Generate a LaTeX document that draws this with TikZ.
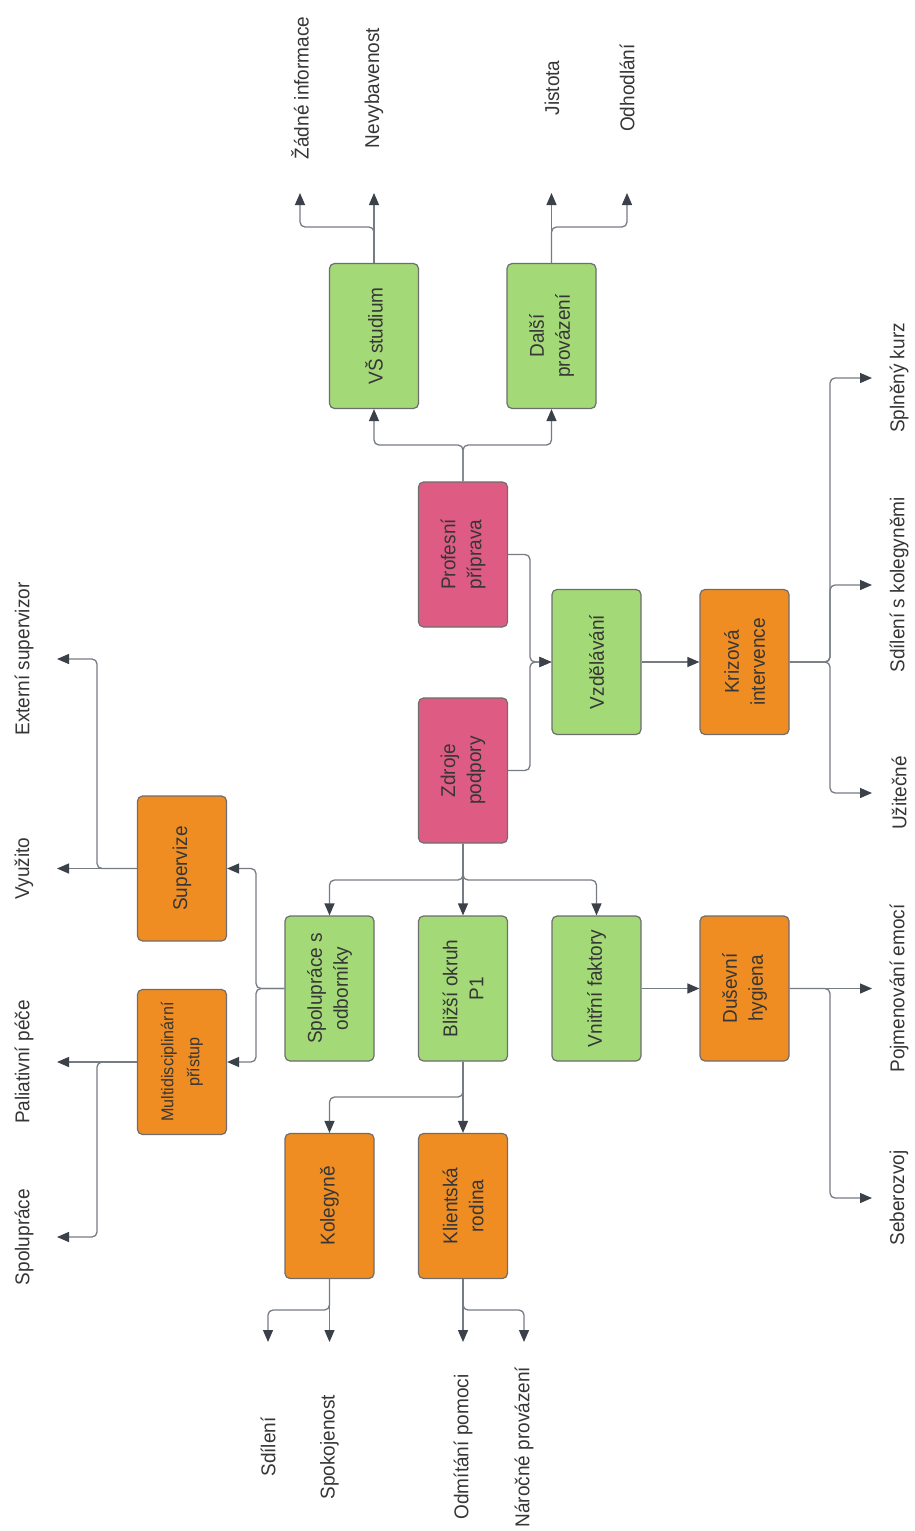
\documentclass[tikz,border=0pt]{standalone}
\usepackage{fontspec}
\setmainfont[FakeStretch=0.95]{Liberation Sans}
\usetikzlibrary{arrows.meta,calc}
\definecolor{cgreen}{HTML}{A3D977}
\definecolor{corange}{HTML}{EF8D22}
\definecolor{cpink}{HTML}{DE5C84}
\definecolor{cedge}{HTML}{6E6E6E}
\definecolor{cline}{HTML}{777C84}
\definecolor{ctip}{HTML}{3B4149}
\definecolor{ctext}{HTML}{363636}
\begin{document}
\begin{tikzpicture}[x=1pt,y=1pt,
 box/.style={draw=cedge, line width=1.2pt, rounded corners=5pt, rotate=90, minimum width=145pt, minimum height=89pt, inner sep=2pt, align=center, text=ctext, font=\fontsize{20}{26}\selectfont},
 gbox/.style={box, fill=cgreen},
 obox/.style={box, fill=corange},
 pbox/.style={box, fill=cpink},
 lab/.style={rotate=90, text=ctext, font=\fontsize{20}{26}\selectfont, inner sep=0pt},
 conn/.style={draw=cline, line width=1.3pt, rounded corners=5pt, -{Triangle[length=12pt,width=10pt,color=ctip]}}
]
\fill[white] (0,0) rectangle (915,-1531);
\useasboundingbox (0,0) rectangle (915,-1531);

% boxes
\node[gbox] (vs) at (374,-336) {VŠ studium};
\node[gbox] (dalsi) at (551.5,-336) {Další\\provázení};
\node[pbox] (prof) at (463,-554.5) {Profesní\\příprava};
\node[pbox] (zdroje) at (463,-770.5) {Zdroje\\podpory};
\node[gbox] (vzdel) at (596.5,-662) {Vzdělávání};
\node[obox] (kriz) at (744.5,-662) {Krizová\\intervence};
\node[obox] (super) at (182,-868.5) {Supervize};
\node[obox, font=\fontsize{17}{26}\selectfont] (multi) at (182,-1062) {Multidisciplinární\\přístup};
\node[gbox] (spol) at (329.5,-988.5) {Spolupráce s\\odborníky};
\node[gbox] (blizsi) at (463,-988.5) {Bližší okruh\\P1};
\node[gbox] (vnitr) at (596.5,-988.5) {Vnitřní faktory};
\node[obox] (dus) at (744.5,-988.5) {Duševní\\hygiena};
\node[obox] (koleg) at (329.5,-1206) {Kolegyně};
\node[obox] (klient) at (463,-1206) {Klientská\\rodina};

% labels
\node[lab] (lZad) at (300,-88) {Žádné informace};
\node[lab] (lNev) at (374,-88) {Nevybavenost};
\node[lab] (lJis) at (552,-88) {Jistota};
\node[lab] (lOdh) at (627,-88) {Odhodlání};
\node[lab] (lExt) at (24,-659) {Externí supervizor};
\node[lab] (lVyu) at (24,-868.5) {Využito};
\node[lab] (lPal) at (24,-1062) {Paliativní péče};
\node[lab] (lSpo) at (24,-1237) {Spolupráce};
\node[lab] (lSpl) at (899,-378) {Splněný kurz};
\node[lab] (lSdk) at (899,-585) {Sdílení s kolegyněmi};
\node[lab] (lUzi) at (899,-793) {Užitečné};
\node[lab] (lPoj) at (899,-988.5) {Pojmenování emocí};
\node[lab] (lSeb) at (899,-1198) {Seberozvoj};
\node[lab] (lSdi) at (268,-1447) {Sdílení};
\node[lab] (lSpk) at (329.5,-1447) {Spokojenost};
\node[lab] (lOdm) at (463,-1447) {Odmítání pomoci};
\node[lab] (lNar) at (524,-1447) {Náročné provázení};

% arrow tips (free ends)
\coordinate (tZad) at (300,-193);
\coordinate (tNev) at (374,-193);
\coordinate (tJis) at (551.5,-193);
\coordinate (tOdh) at (627,-193);
\coordinate (tExt) at (57,-659);
\coordinate (tVyu) at (57,-868.5);
\coordinate (tPal) at (57,-1062);
\coordinate (tSpo) at (57,-1237);
\coordinate (tSpl) at (872,-378);
\coordinate (tSdk) at (872,-585);
\coordinate (tUzi) at (872,-793);
\coordinate (tPoj) at (872,-988.5);
\coordinate (tSeb) at (872,-1198);
\coordinate (tSdi) at (268,-1342);
\coordinate (tSpk) at (329.5,-1342);
\coordinate (tOdm) at (463,-1342);
\coordinate (tNar) at (524,-1342);

% connectors
\draw[conn] (prof.east) -- (463,-445) -| (vs.west);
\draw[conn] (prof.east) -- (463,-445) -| (dalsi.west);
\draw[conn] (vs.east) -- (tNev);
\draw[conn] (vs.east) -- (374,-227) -| (tZad);
\draw[conn] (dalsi.east) -- (tJis);
\draw[conn] (dalsi.east) -- (551.5,-227) -| (tOdh);

\draw[conn] (prof.south) -| (530,-662) -- (vzdel.north);
\draw[conn] (zdroje.south) -| (530,-662) -- (vzdel.north);
\draw[conn] (vzdel.south) -- (kriz.north);
\draw[conn] (kriz.south) -- (830,-662) |- (tSpl);
\draw[conn] (kriz.south) -- (830,-662) |- (tSdk);
\draw[conn] (kriz.south) -- (830,-662) |- (tUzi);

\draw[conn] (zdroje.west) -- (463,-880) -| (spol.east);
\draw[conn] (zdroje.west) -- (blizsi.east);
\draw[conn] (zdroje.west) -- (463,-880) -| (vnitr.east);

\draw[conn] (vnitr.south) -- (dus.north);
\draw[conn] (dus.south) -- (tPoj);
\draw[conn] (dus.south) -- (830,-988.5) |- (tSeb);

\draw[conn] (spol.north) -- (256,-988.5) |- (super.south);
\draw[conn] (spol.north) -- (256,-988.5) |- (multi.south);
\draw[conn] (super.north) -- (tVyu);
\draw[conn] (super.north) -- (97,-868.5) |- (tExt);
\draw[conn] (multi.north) -- (tPal);
\draw[conn] (multi.north) -- (97,-1062) |- (tSpo);

\draw[conn] (blizsi.west) -- (463,-1097) -| (koleg.east);
\draw[conn] (blizsi.west) -- (klient.east);
\draw[conn] (koleg.west) -- (tSpk);
\draw[conn] (koleg.west) -- (329.5,-1310) -| (tSdi);
\draw[conn] (klient.west) -- (tOdm);
\draw[conn] (klient.west) -- (463,-1310) -| (tNar);
\end{tikzpicture}
\end{document}
